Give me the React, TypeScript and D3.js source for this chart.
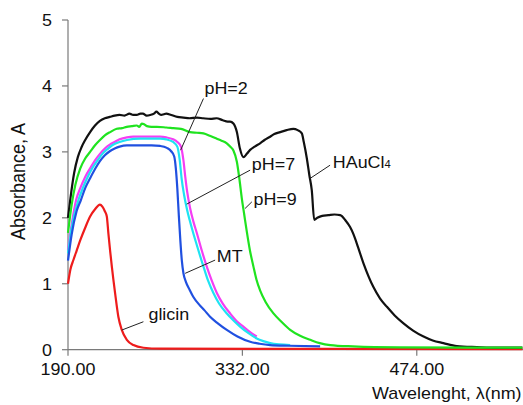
import * as d3 from "d3";

type Pt = [number, number];

// wavelength (nm), absorbance (A)
const hauCl4: Pt[] = [
  [190, 2.0], [192, 2.3], [195, 2.68], [198, 2.92], [201, 3.07], [204, 3.18], [208, 3.3],
  [212, 3.4], [216, 3.47], [220, 3.51], [224, 3.53], [228, 3.55], [232, 3.56], [236, 3.55],
  [240, 3.58], [243, 3.56], [246, 3.56], [249, 3.58], [251, 3.58], [254, 3.55], [257, 3.56],
  [260, 3.58], [262, 3.61], [264, 3.58], [266, 3.56], [268, 3.57], [270, 3.58], [274, 3.56],
  [279, 3.53], [284, 3.52], [289, 3.51], [295, 3.52], [300, 3.51], [306, 3.5], [311, 3.51],
  [316, 3.48], [320, 3.46], [322, 3.46], [324.7, 3.43], [327.5, 3.3], [330, 3.05],
  [332.8, 2.92], [335.6, 2.97], [338.3, 3.03], [342, 3.08], [346.4, 3.13], [350, 3.18],
  [354.6, 3.23], [358, 3.27], [362.7, 3.3], [368, 3.33], [373.5, 3.35], [377, 3.33],
  [380.4, 3.28], [382, 3.15], [384.5, 2.9], [386.5, 2.65], [388.5, 2.42], [390.5, 1.97],
  [393, 2.0], [397, 2.03], [402, 2.04], [407, 2.05], [411.6, 2.04], [416, 1.96],
  [419.7, 1.86], [422.5, 1.75], [425.2, 1.61], [430.6, 1.31], [438.7, 0.95], [444, 0.78],
  [449.7, 0.65], [456, 0.52], [463.2, 0.4], [471, 0.29], [479.5, 0.2], [487, 0.14],
  [495.7, 0.1], [506.6, 0.055], [523, 0.04], [540, 0.03], [560, 0.03],
];

const pH9: Pt[] = [
  [190, 1.77], [193, 2.2], [196, 2.5], [200, 2.75], [204, 2.9], [208, 3.0], [212, 3.1],
  [216, 3.18], [220, 3.25], [224.3, 3.3], [229.7, 3.35], [234, 3.36], [237.8, 3.38],
  [242, 3.39], [246, 3.4], [248, 3.38], [250.1, 3.43], [252, 3.42], [254.2, 3.39],
  [258, 3.38], [262.3, 3.38], [270, 3.37], [275.8, 3.36], [282, 3.35], [289.4, 3.3],
  [295, 3.29], [300.3, 3.28], [306, 3.24], [311.2, 3.2], [315, 3.17], [319.3, 3.13],
  [322, 3.08], [324.7, 3.02], [327.5, 2.85], [329.5, 2.6], [331.5, 2.3], [333.5, 2.05],
  [335.6, 1.79], [338, 1.52], [341, 1.26], [343.5, 1.06], [346.4, 0.9], [351, 0.72],
  [357.3, 0.55], [364, 0.42], [370.9, 0.3], [379, 0.21], [387.2, 0.15], [395, 0.1],
  [403.5, 0.07], [422, 0.05], [460, 0.035], [560, 0.03],
];

const pH7: Pt[] = [
  [190, 1.51], [193, 1.9], [196.6, 2.27], [200, 2.45], [204, 2.62], [208, 2.75], [212, 2.87],
  [216, 2.97], [220, 3.05], [224, 3.11], [228, 3.15], [232, 3.19], [238, 3.22], [243, 3.23],
  [250, 3.23], [258, 3.23], [265, 3.23], [270, 3.22], [275.6, 3.19], [279, 3.15], [282, 3.08],
  [284, 2.87], [285.5, 2.62], [287, 2.4], [289.4, 2.15], [292, 1.95], [294.9, 1.77],
  [299, 1.5], [303, 1.26], [307, 1.05], [311.2, 0.86], [316, 0.7], [322, 0.55], [327, 0.44],
  [332.8, 0.35], [338, 0.27], [343.7, 0.2],
];

const pH2: Pt[] = [
  [190, 1.46], [193, 1.85], [198.5, 2.27], [202, 2.45], [206, 2.62], [210, 2.76], [214, 2.87],
  [218, 2.97], [222, 3.04], [226, 3.1], [232, 3.15], [238, 3.18], [248.7, 3.2], [265, 3.2],
  [270, 3.19], [275.6, 3.15], [279, 3.08], [281, 2.87], [282.5, 2.6], [284.5, 2.35],
  [287, 2.12], [289, 1.97], [291.5, 1.8], [295, 1.58], [300.3, 1.26], [304, 1.05],
  [308.4, 0.86], [313, 0.7], [319.3, 0.55], [325, 0.44], [330.1, 0.35], [337, 0.25],
  [343.7, 0.17], [349, 0.13], [354.6, 0.1], [362, 0.08], [370.9, 0.07],
];

const mt: Pt[] = [
  [190, 1.35], [193, 1.75], [197, 2.1], [200.5, 2.27], [204, 2.45], [208, 2.6], [212, 2.74],
  [216, 2.86], [220, 2.95], [224, 3.01], [228, 3.05], [232, 3.08], [238, 3.1], [243, 3.1],
  [250, 3.1], [258, 3.1], [265, 3.09], [270.5, 3.06], [274, 3.01], [276.5, 2.93],
  [277.8, 2.75], [279, 2.45], [280.2, 2.05], [281.5, 1.65], [282.7, 1.35], [284, 1.16],
  [286, 1.03], [289, 0.91], [292.1, 0.8], [297, 0.68], [301, 0.6], [305.7, 0.5], [312, 0.4],
  [319.3, 0.3], [328, 0.2], [338.3, 0.12], [346, 0.09], [354.6, 0.07], [370, 0.06],
  [395.3, 0.05],
];

const glicin: Pt[] = [
  [190, 1.0], [192, 1.22], [194.4, 1.36], [197, 1.5], [200, 1.66], [204, 1.85], [208, 2.02],
  [212, 2.13], [216, 2.2], [218, 2.17], [220, 2.1], [221.6, 2.02], [222.9, 1.76],
  [224.3, 1.5], [225.7, 1.26], [228.4, 0.85], [231, 0.5], [233.8, 0.3], [237.9, 0.15],
  [243.3, 0.07], [251.4, 0.03], [265, 0.015], [560, 0.01],
];

const xTicks = [190, 332, 474];
const yTicks = [0, 1, 2, 3, 4, 5];

// label text, text anchor point, pointer start, pointer end (data units)
const labels = [
  { text: "pH=2", at: [301.1, 3.874], from: [300.3, 3.809], to: [281.7, 3.026] },
  { text: "pH=7", at: [339.7, 2.723], from: [338.3, 2.723], to: [286.7, 2.208] },
  { text: "pH=9", at: [341.0, 2.192], from: [339.7, 2.242], to: [334.2, 2.142] },
  { text: "HAuCl", sub: "4", at: [405.6, 2.748], from: [403.4, 2.798], to: [387.1, 2.597] },
  { text: "MT", at: [311.2, 1.333], from: [309.8, 1.359], to: [285.4, 1.158] },
  { text: "glicin", at: [255.5, 0.45], from: [251.4, 0.424], to: [233.8, 0.298] },
];

const series = [
  { name: "glicin", data: glicin, color: "#ee1c1c" },
  { name: "HAuCl4", data: hauCl4, color: "#111111" },
  { name: "pH=9", data: pH9, color: "#1fe31f" },
  { name: "pH=7", data: pH7, color: "#f43ef4" },
  { name: "pH=2", data: pH2, color: "#1fe3f2" },
  { name: "MT", data: mt, color: "#2050e0" },
];

const W = 523;
const H = 405;
const FONT = "'Liberation Sans', Arial, Helvetica, sans-serif";
const SX = 1.12; // the picture is a bit stretched sideways

export default function App() {
  const x = d3.scaleLinear().domain([190, 560.5]).range([68, 523]);
  const y = d3.scaleLinear().domain([0, 5]).range([349.7, 20]);
  const line = d3
    .line<Pt>()
    .x((d) => x(d[0]))
    .y((d) => y(d[1]))
    .curve(d3.curveMonotoneX);

  const axisColor = "#7a7a7a";

  return (
    <div style={{ position: "absolute", left: 0, top: 0 }}>
      <svg width={W} height={H} style={{ display: "block", background: "#fff" }} fontFamily={FONT}>
        {/* axes */}
        <line x1={x(190)} x2={W} y1={y(0)} y2={y(0)} stroke={axisColor} strokeWidth={1.2} />
        <line x1={x(190)} x2={x(190)} y1={y(0)} y2={y(5)} stroke={axisColor} strokeWidth={1.2} />
        {yTicks.map((t) => (
          <g key={"y" + t}>
            <line x1={x(190) - 6} x2={x(190)} y1={y(t)} y2={y(t)} stroke={axisColor} strokeWidth={1.2} />
            <text
              transform={`translate(52,${y(t) + 6}) scale(${SX},1)`}
              textAnchor="end"
              fontSize={16}
              fill="#111"
            >
              {t}
            </text>
          </g>
        ))}
        {xTicks.map((t) => (
          <g key={"x" + t}>
            <line x1={x(t)} x2={x(t)} y1={y(0)} y2={y(0) + 6} stroke={axisColor} strokeWidth={1.2} />
            <text
              transform={`translate(${x(t)},${y(0) + 25}) scale(${SX},1)`}
              textAnchor="middle"
              fontSize={16}
              fill="#111"
            >
              {t.toFixed(2)}
            </text>
          </g>
        ))}
        <text
          transform={`translate(25,${y(2.55)}) scale(${SX},1) rotate(-90)`}
          textAnchor="middle"
          fontSize={18}
          fill="#111"
        >
          Absorbance, A
        </text>
        <text
          transform={`translate(521.5,399) scale(${SX},1)`}
          textAnchor="end"
          fontSize={16}
          fill="#111"
        >
          Wavelenght, λ(nm)
        </text>

        {/* spectra */}
        {series.map((s) => (
          <path
            key={s.name}
            d={line(s.data) ?? ""}
            fill="none"
            stroke={s.color}
            strokeWidth={2.2}
            strokeLinejoin="round"
          />
        ))}

        {/* labels with pointers */}
        {labels.map((l) => (
          <g key={l.text}>
            <line
              x1={x(l.from[0])}
              y1={y(l.from[1])}
              x2={x(l.to[0])}
              y2={y(l.to[1])}
              stroke="#222"
              strokeWidth={1}
            />
            <text
              transform={`translate(${x(l.at[0])},${y(l.at[1])}) scale(${SX},1)`}
              fontSize={16}
              fill="#111"
            >
              {l.text}
              {l.sub && <tspan fontSize={10}>{l.sub}</tspan>}
            </text>
          </g>
        ))}
      </svg>
    </div>
  );
}
